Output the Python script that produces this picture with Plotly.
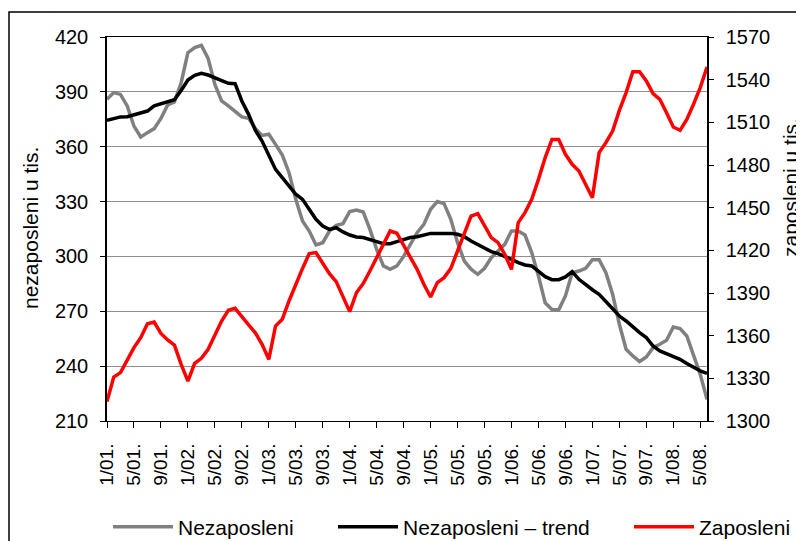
import plotly.graph_objects as go

# ---- data ----
months = [f"{m}/{y:02d}." for y in range(1, 9) for m in range(1, 13)][:90]

unemployed = [385.9, 389.6, 388.6, 382.3, 371.3, 365.3, 367.7, 369.9, 375.5, 382.8,
              384.5, 395.0, 411.4, 414.2, 415.4, 408.3, 394.1, 385.0, 382.3, 379.5,
              376.3, 375.5, 370.0, 366.2, 366.8, 361.3, 355.5, 345.8, 331.2, 319.4,
              313.9, 306.3, 307.5, 313.9, 317.0, 317.9, 324.5, 325.4, 324.3, 314.8,
              303.9, 294.8, 293.0, 294.8, 300.0, 306.6, 313.0, 317.6, 325.8, 330.0,
              328.9, 320.3, 307.5, 297.5, 293.0, 290.2, 293.5, 299.3, 303.0, 306.6,
              313.9, 313.9, 311.7, 302.1, 289.3, 274.6, 271.0, 270.8, 278.4, 291.1,
              292.0, 293.5, 298.2, 298.2, 291.1, 279.3, 262.9, 249.2, 245.6, 242.5,
              245.0, 250.1, 252.0, 254.1, 261.4, 260.5, 256.5, 245.6, 235.5, 221.8]

trend = [374.4, 375.5, 376.3, 376.4, 377.3, 378.3, 379.5, 382.3, 383.5, 384.6,
         385.7, 390.8, 396.5, 399.0, 400.1, 399.2, 397.8, 396.5, 394.7, 394.5,
         385.0, 377.7, 369.0, 363.1, 355.8, 347.6, 343.1, 338.5, 334.0, 331.2,
         325.8, 320.3, 316.6, 314.8, 315.7, 313.4, 311.7, 310.6, 310.3, 309.0,
         308.1, 307.0, 307.0, 308.1, 309.2, 310.3, 310.8, 311.7, 312.6, 312.6,
         312.6, 312.6, 312.1, 310.8, 308.4, 306.3, 304.4, 302.6, 301.5, 300.2,
         298.4, 296.6, 295.3, 294.8, 292.0, 288.9, 287.3, 287.3, 288.8, 291.7,
         287.5, 284.4, 281.8, 279.3, 275.3, 271.6, 267.4, 264.7, 261.4, 258.3,
         255.6, 251.0, 248.3, 246.8, 245.6, 243.7, 241.4, 239.2, 237.4, 236.1]

employed = [1313.6, 1330.9, 1334.0, 1342.7, 1351.6, 1358.6, 1368.4, 1369.6, 1361.6, 1357.0,
            1353.4, 1339.8, 1328.1, 1340.5, 1344.1, 1350.4, 1359.8, 1370.3, 1377.8, 1379.2,
            1373.4, 1367.5, 1362.0, 1353.9, 1343.4, 1366.8, 1371.5, 1384.4, 1396.1, 1407.3,
            1417.7, 1418.4, 1410.9, 1403.6, 1398.0, 1386.7, 1376.9, 1390.2, 1396.6, 1405.5,
            1414.8, 1425.4, 1433.6, 1432.0, 1423.6, 1416.0, 1406.6, 1396.1, 1387.2, 1397.3,
            1400.8, 1407.3, 1419.5, 1432.4, 1444.1, 1445.8, 1437.1, 1428.9, 1425.4, 1417.2,
            1406.6, 1439.5, 1446.5, 1455.9, 1469.9, 1485.2, 1498.0, 1498.0, 1487.5, 1480.5,
            1475.8, 1465.9, 1457.0, 1488.7, 1495.7, 1503.9, 1518.4, 1530.9, 1545.6, 1545.6,
            1539.1, 1530.2, 1526.2, 1516.8, 1506.7, 1504.4, 1512.1, 1522.7, 1534.4, 1548.9]

tick_labels = months[::4]
left_ticks = [210, 240, 270, 300, 330, 360, 390, 420]
right_ticks = [1300, 1330, 1360, 1390, 1420, 1450, 1480, 1510, 1540, 1570]

FONT = "Arial, Liberation Sans, sans-serif"
OFF = 8  # page body margin of the html page
W, H = 804 - OFF, 541 - OFF
# plot area in screen pixels
SL, SR, ST, SB = 107, 707, 37, 421
PW, PH = SR - SL, SB - ST


def px_x(px):
    return (px - SL) / PW


def px_y(py):
    return (SB - py) / PH


fig = go.Figure()
fig.add_trace(go.Scatter(x=months, y=unemployed, name="Nezaposleni", mode="lines",
                         line=dict(color="#808080", width=3.5), legend="legend"))
fig.add_trace(go.Scatter(x=months, y=trend, name="Nezaposleni \u2013 trend", mode="lines",
                         line=dict(color="#000000", width=3.5), legend="legend2"))
fig.add_trace(go.Scatter(x=months, y=employed, name="Zaposleni", mode="lines", yaxis="y2",
                         line=dict(color="#FF0000", width=3.5), legend="legend3"))

leg_common = dict(orientation="h", xanchor="left", yanchor="middle", y=px_y(527),
                  font=dict(size=21, family=FONT), itemwidth=60,
                  bgcolor="rgba(0,0,0,0)", borderwidth=0)

fig.update_layout(
    width=W, height=H,
    margin=dict(l=SL - OFF, r=W - (SR - OFF), t=ST - OFF, b=H - (SB - OFF), autoexpand=False),
    paper_bgcolor="white", plot_bgcolor="white",
    font=dict(family=FONT, color="black"),
    showlegend=True,
    legend=dict(x=px_x(108), **leg_common),
    legend2=dict(x=px_x(333), **leg_common),
    legend3=dict(x=px_x(629), **leg_common),
    xaxis=dict(type="category", range=[0, len(months) - 1], tickmode="array",
               tickvals=tick_labels, ticktext=tick_labels, tickangle=-90,
               ticks="outside", ticklen=6, tickcolor="black", showline=True,
               linecolor="black", linewidth=1, mirror=True, showgrid=False,
               tickfont=dict(size=19), ticklabelstandoff=8, automargin=False),
    yaxis=dict(range=[210, 420], tickvals=left_ticks, showgrid=True, gridcolor="#8f8f8f",
               gridwidth=1, showline=True, linecolor="black", linewidth=1.5,
               ticks="outside", ticklen=5, tickcolor="black", zeroline=False,
               tickfont=dict(size=20), ticklabelstandoff=8, automargin=False),
    yaxis2=dict(overlaying="y", side="right", range=[1300, 1570], tickvals=right_ticks,
                showgrid=False, showline=True, linecolor="black", linewidth=1.5,
                ticks="outside", ticklen=5, tickcolor="black", zeroline=False,
                tickfont=dict(size=20), ticklabelstandoff=8, automargin=False),
    yaxis3=dict(overlaying="y", side="right", anchor="x", range=[1300, 1570],
                tickvals=right_ticks, showgrid=False, showline=False, ticks="inside",
                ticklen=5, tickcolor="black", showticklabels=False, zeroline=False,
                automargin=False),
)

# axis titles
fig.add_annotation(text="nezaposleni u tis.", xref="paper", yref="paper",
                   x=px_x(30), y=px_y(228), textangle=-90, showarrow=False,
                   xanchor="center", yanchor="middle", font=dict(size=21, family=FONT))
fig.add_annotation(text="zaposleni u tis.", xref="paper", yref="paper",
                   x=px_x(790), y=px_y(188), textangle=-90, showarrow=False,
                   xanchor="center", yanchor="middle", font=dict(size=21, family=FONT))

# outer chart border
fig.add_shape(type="rect", xref="paper", yref="paper",
              x0=px_x(9), x1=px_x(802.5), y0=px_y(560), y1=px_y(12),
              line=dict(color="black", width=1.5), fillcolor="rgba(0,0,0,0)", layer="below")

fig.write_html("out.html")
